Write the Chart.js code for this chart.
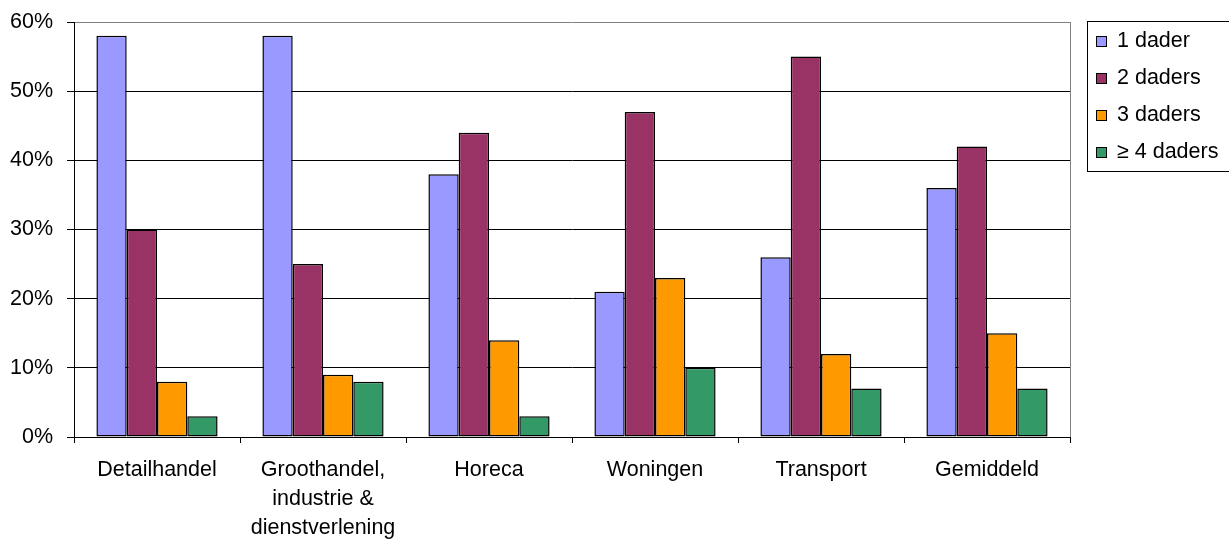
<!DOCTYPE html>
<html>
<head>
<meta charset="utf-8">
<title>Daders per sector</title>
<script src="https://cdn.jsdelivr.net/npm/chart.js@4/dist/chart.umd.min.js"></script>
<style>
  body { margin: 0; background: #fff; }
  canvas { display: block; }
</style>
</head>
<body>
<canvas id="chart" width="1229" height="543"></canvas>
<script>
// ==========================
// DATA
// ==========================

const categories = [
  "Detailhandel",
  ["Groothandel,", "industrie &", "dienstverlening"],
  "Horeca",
  "Woningen",
  "Transport",
  "Gemiddeld"
];

const seriesNames = ["1 dader", "2 daders", "3 daders", "\u2265 4 daders"];

const oneOffender   = [58, 58, 38, 21, 26, 36];
const twoOffenders  = [30, 25, 44, 47, 55, 42];
const threeOffenders = [8, 9, 14, 23, 12, 15];
const fourPlus      = [3, 8, 3, 10, 7, 7];

const yTicks = [0, 10, 20, 30, 40, 50, 60];

const colors = ["#9999FF", "#993366", "#FF9900", "#339966"];

const FONT = { family: "'Liberation Sans', Arial, sans-serif", size: 21.5 };

// ==========================
// PLOT BORDER + LEGEND
// ==========================

const plotBorder = {
  id: "plotBorder",
  beforeDatasetsDraw(chart) {
    const { ctx, chartArea } = chart;
    ctx.save();
    ctx.strokeStyle = "#808080";
    ctx.lineWidth = 1;
    ctx.beginPath();
    ctx.moveTo(chartArea.right + 0.5, chartArea.top);
    ctx.lineTo(chartArea.right + 0.5, chartArea.bottom);
    ctx.stroke();
    ctx.restore();
  }
};

const boxLegend = {
  id: "boxLegend",
  afterDraw(chart) {
    const ctx = chart.ctx;
    ctx.save();
    ctx.strokeStyle = "#000";
    ctx.lineWidth = 1;
    ctx.strokeRect(1087.5, 21.5, 150, 150);
    ctx.font = FONT.size + "px " + FONT.family;
    ctx.textBaseline = "middle";
    chart.data.datasets.forEach(function(ds, i){
      const y = 41 + i * 37;
      ctx.fillStyle = ds.backgroundColor;
      ctx.fillRect(1096.5, y - 4.5, 10, 10);
      ctx.strokeStyle = "#000";
      ctx.strokeRect(1096.5, y - 4.5, 10, 10);
      ctx.fillStyle = "#000";
      ctx.fillText(ds.label, 1117, y);
    });
    ctx.restore();
  }
};

// ==========================
// CHART
// ==========================

const seriesValues = [oneOffender, twoOffenders, threeOffenders, fourPlus];

const chart = new Chart(document.getElementById("chart"), {
  type: "bar",
  data: {
    labels: categories,
    datasets: seriesNames.map(function(name, i){
      return {
        label: name,
        data: seriesValues[i],
        backgroundColor: colors[i],
        borderColor: "#000",
        borderWidth: 1.5,
        borderSkipped: false,
        categoryPercentage: 0.73,
        barPercentage: 1
      };
    })
  },
  options: {
    responsive: false,
    animation: false,
    layout: { padding: { top: 22, right: 159, left: 0, bottom: 0 } },
    plugins: {
      legend: { display: false },
      tooltip: { enabled: false }
    },
    scales: {
      x: {
        grid: {
          offset: true,
          drawOnChartArea: false,
          drawTicks: true,
          tickLength: 6,
          color: "#000"
        },
        border: { color: "#000", width: 1 },
        ticks: {
          color: "#000",
          font: { family: FONT.family, size: FONT.size, lineHeight: 1.35 },
          padding: 13,
          maxRotation: 0,
          autoSkip: false
        },
        afterFit(scale) { scale.height = 106; }
      },
      y: {
        min: 0,
        max: 60,
        afterBuildTicks(scale) {
          scale.ticks = yTicks.map(function(v){ return { value: v }; });
        },
        grid: {
          color(ctx) { return ctx.tick && ctx.tick.value === 60 ? "#808080" : "#000"; },
          tickColor: "#000",
          tickLength: 7,
          drawTicks: true
        },
        border: { color: "#000", width: 1 },
        ticks: {
          color: "#000",
          font: { family: FONT.family, size: FONT.size },
          padding: 14,
          callback(v) { return v + "%"; }
        },
        afterFit(scale) {
          scale.width = 74;
          scale.paddingTop = 0;
          scale.paddingBottom = 0;
        }
      }
    }
  },
  plugins: [plotBorder, boxLegend]
});
</script>
</body>
</html>
